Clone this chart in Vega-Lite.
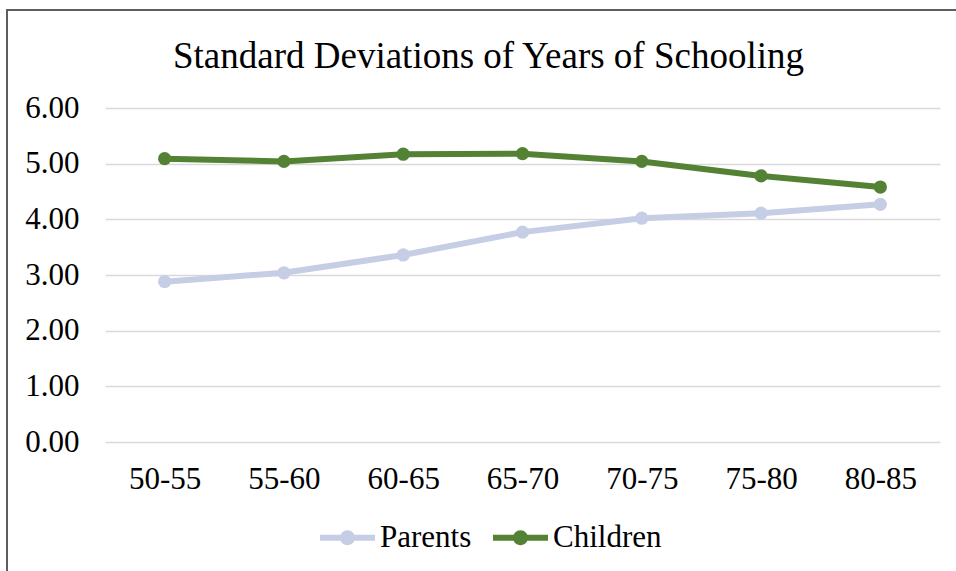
{
  "$schema": "https://vega.github.io/schema/vega-lite/v6.json",
  "width": 951,
  "height": 563,
  "autosize": "none",
  "padding": {"left": 7, "top": 10, "right": 0, "bottom": 0},
  "background": "white",
  "config": {
    "view": {"stroke": "#5e5e5e", "strokeWidth": 2},
    "font": "Liberation Serif"
  },
  "title": {
    "text": "Standard Deviations of Years of Schooling",
    "font": "Liberation Serif",
    "fontSize": 37,
    "fontWeight": "normal",
    "color": "black",
    "anchor": "middle",
    "frame": "group",
    "offset": -66,
    "dx": 6
  },
  "data": {
    "values": [
      {"cohort": "50-55", "series": "Parents", "sd": 2.88},
      {"cohort": "55-60", "series": "Parents", "sd": 3.04},
      {"cohort": "60-65", "series": "Parents", "sd": 3.36},
      {"cohort": "65-70", "series": "Parents", "sd": 3.77},
      {"cohort": "70-75", "series": "Parents", "sd": 4.02},
      {"cohort": "75-80", "series": "Parents", "sd": 4.11},
      {"cohort": "80-85", "series": "Parents", "sd": 4.27},
      {"cohort": "50-55", "series": "Children", "sd": 5.09},
      {"cohort": "55-60", "series": "Children", "sd": 5.04},
      {"cohort": "60-65", "series": "Children", "sd": 5.17},
      {"cohort": "65-70", "series": "Children", "sd": 5.18},
      {"cohort": "70-75", "series": "Children", "sd": 5.04},
      {"cohort": "75-80", "series": "Children", "sd": 4.78},
      {"cohort": "80-85", "series": "Children", "sd": 4.58}
    ]
  },
  "mark": {
    "type": "line",
    "strokeWidth": 6,
    "point": {"filled": true, "size": 175, "opacity": 1}
  },
  "encoding": {
    "x": {
      "field": "cohort",
      "type": "ordinal",
      "sort": null,
      "scale": {"type": "point", "range": [98, 933], "padding": 0.5},
      "axis": {
        "title": null,
        "domain": false,
        "ticks": false,
        "grid": false,
        "labelAngle": 0,
        "labelPadding": 4,
        "offset": -113,
        "labelFont": "Liberation Serif",
        "labelFontSize": 31,
        "labelColor": "black"
      }
    },
    "y": {
      "field": "sd",
      "type": "quantitative",
      "scale": {"domain": [0, 6], "range": [432, 98], "nice": false},
      "axis": {
        "title": null,
        "values": [0, 1, 2, 3, 4, 5, 6],
        "format": ".2f",
        "domain": false,
        "ticks": false,
        "labelPadding": 0,
        "offset": -72,
        "labelFont": "Liberation Serif",
        "labelFontSize": 31,
        "labelColor": "black",
        "gridColor": "#d9d9d9",
        "gridWidth": 1.5
      }
    },
    "color": {
      "field": "series",
      "type": "nominal",
      "scale": {"domain": ["Parents", "Children"], "range": ["#c5cee4", "#548235"]},
      "legend": {
        "title": null,
        "orient": "none",
        "direction": "horizontal",
        "legendX": 313,
        "legendY": 500,
        "symbolType": "M-1,-0.11H1V0.11H-1Z M0.27,0A0.27,0.27 0 1,1 -0.27,0A0.27,0.27 0 1,1 0.27,0Z",
        "symbolSize": 3025,
        "symbolStrokeWidth": 0,
        "labelFont": "Liberation Serif",
        "labelFontSize": 31,
        "labelColor": "black",
        "labelOffset": 5,
        "columnPadding": 21,
        "encode": {
          "symbols": {
            "update": {
              "fill": {"scale": "color", "field": "value"},
              "opacity": {"value": 1}
            }
          }
        }
      }
    }
  }
}
